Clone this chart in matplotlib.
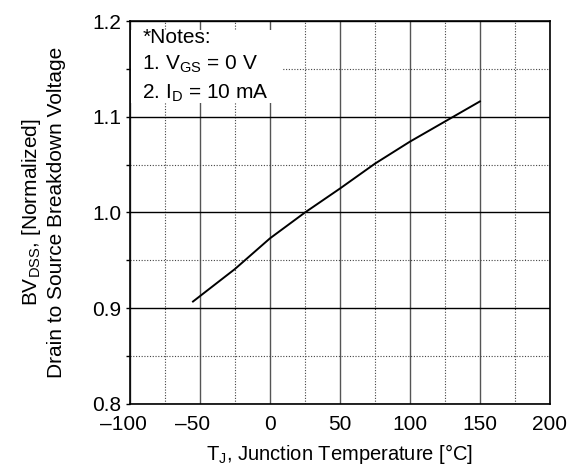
import numpy as np
import matplotlib.pyplot as plt
import matplotlib.transforms as mtransforms
from matplotlib.patches import Rectangle
from matplotlib.ticker import MultipleLocator

plt.rcParams['font.family'] = ['Liberation Sans', 'DejaVu Sans']
plt.rcParams['mathtext.default'] = 'regular'

# curve
temp = [-55, -25, 0, 25, 50, 75, 100, 125, 150]
bv = [0.907, 0.941, 0.973, 1.000, 1.025, 1.051, 1.074, 1.095, 1.116]

xticks = [-100, -50, 0, 50, 100, 150, 200]
xlabels = ['\u2013100', '\u201350', '0', '50', '100', '150', '200']
yticks = [0.8, 0.9, 1.0, 1.1, 1.2]
ylabels = ['0.8', '0.9', '1.0', '1.1', '1.2']

fig = plt.figure(figsize=(5.71, 4.71), dpi=100)
ax = fig.add_axes([0.2277, 0.1423, 0.7353, 0.8131])

ax.set_xlim(-100, 200)
ax.set_ylim(0.8, 1.2)
ax.set_xticks(xticks)
ax.set_xticklabels(xlabels)
ax.set_yticks(yticks)
ax.set_yticklabels(ylabels)
ax.xaxis.set_minor_locator(MultipleLocator(25))
ax.yaxis.set_minor_locator(MultipleLocator(0.05))

ax.grid(axis='x', which='major', color='#555555', lw=1.0)
ax.grid(axis='y', which='major', color='black', lw=1.0)
ax.grid(which='minor', color='#444444', lw=0.8, ls=(0, (1, 1.5)))
ax.set_axisbelow(True)

ax.tick_params(axis='x', which='both', length=0, labelsize=15, pad=8)
ax.tick_params(axis='y', which='both', length=3, width=1, labelsize=15, pad=3)
for s in ax.spines.values():
    s.set_linewidth(1.2)

# hang the minus sign left of the centred number
shift = mtransforms.ScaledTranslation(-7 / 100, 0, fig.dpi_scale_trans)
for lab in ax.get_xticklabels():
    if lab.get_text().startswith('\u2013'):
        lab.set_transform(lab.get_transform() + shift)

ax.plot(temp, bv, color='black', lw=1.4, zorder=3)

ax.add_patch(Rectangle((0.003, 0.786), 0.359, 0.191, transform=ax.transAxes,
                       facecolor='white', edgecolor='none', zorder=1))
ax.text(0.029, 0.982, '*Notes:\n1. V$_{GS}$ = 0 V\n2. I$_D$ = 10 mA',
        transform=ax.transAxes, ha='left', va='top', fontsize=15,
        linespacing=1.45, zorder=4)

ax.set_xlabel('T$_J$, Junction Temperature [°C]', fontsize=14.5, labelpad=6)
ax.set_ylabel('BV$_{DSS}$, [Normalized]\nDrain to Source Breakdown Voltage',
              fontsize=15, labelpad=19, linespacing=1.25)

fig.savefig('out.png', dpi=100)
